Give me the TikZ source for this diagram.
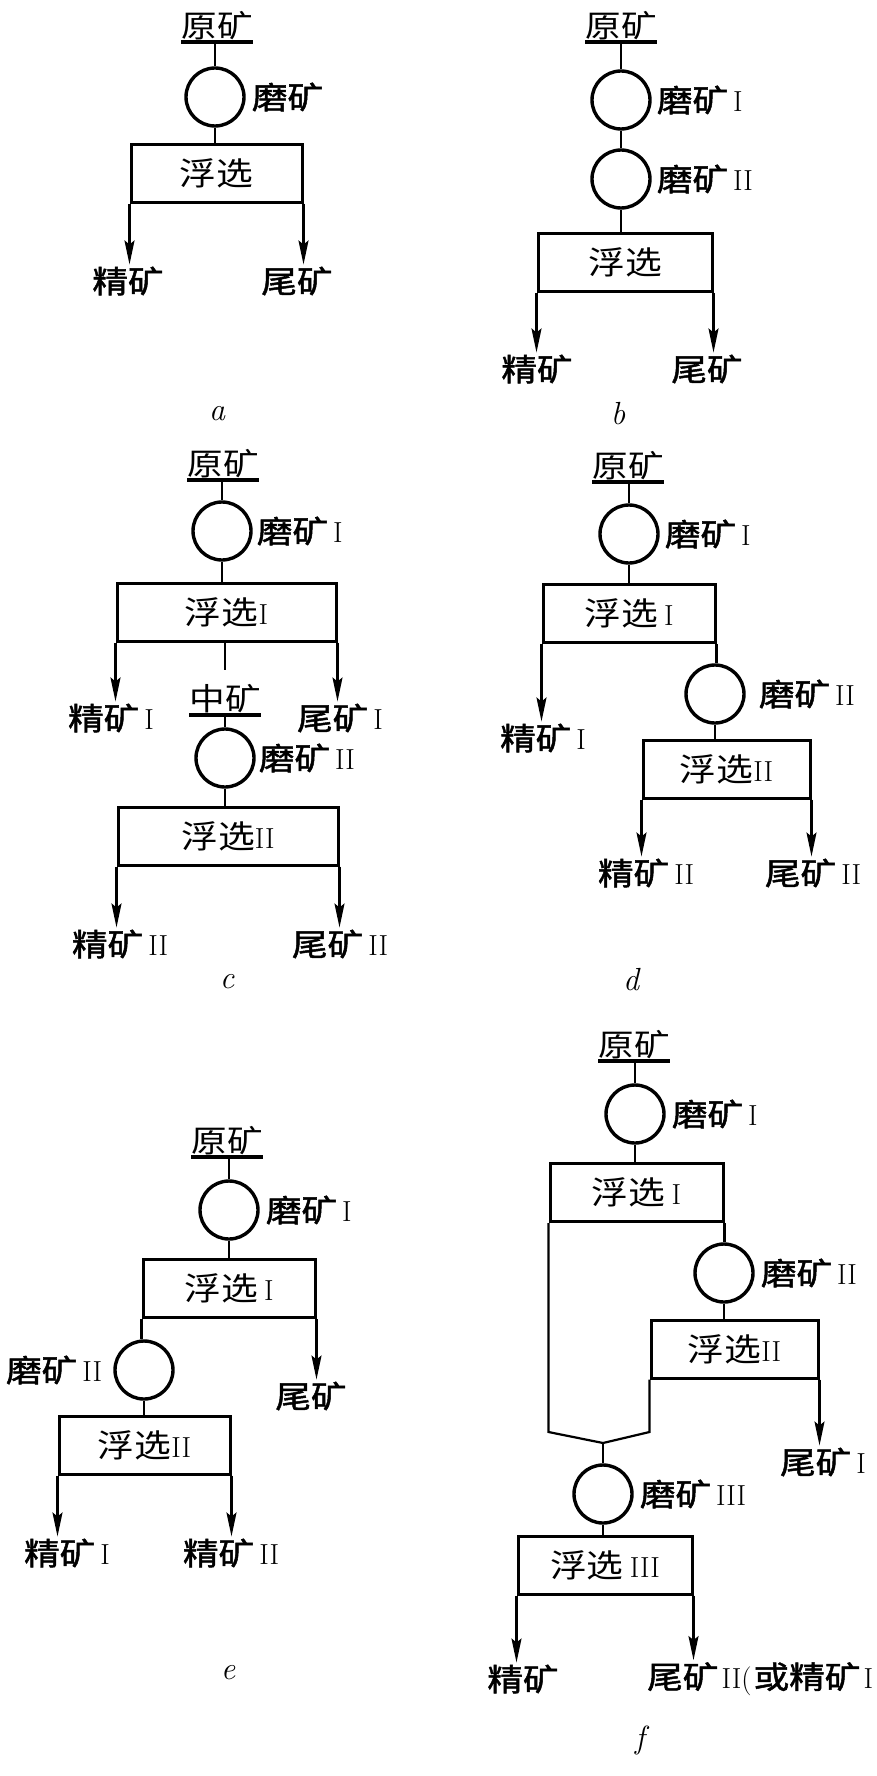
\documentclass[tikz,border=0pt]{standalone}
\usepackage{fontspec}
\usepackage{tikz}
\usetikzlibrary{arrows.meta, positioning}
\newfontfamily\cjk[FakeStretch=1.15]{Noto Sans CJK SC}
\newfontfamily\cjkhei[FakeStretch=1.15,FakeBold=1.6]{Noto Sans CJK SC}
\newcommand{\romnum}[1]{{\rmfamily\fontsize{29pt}{29pt}\selectfont #1}}

\begin{document}
\begin{tikzpicture}[x=1pt, y=1pt, >={Stealth[length=24pt,width=10pt,inset=4pt]},
  flow/.style={line width=2.2pt},
  bar/.style={line width=3.4pt},
  feed node/.style={font=\cjk\fontsize{31pt}{33pt}\selectfont, inner xsep=0pt, inner ysep=2pt, anchor=south},
  mill node/.style={circle, draw, line width=3.4pt, minimum size=58pt, inner sep=0pt},
  cell node/.style={draw, line width=3pt, minimum height=58pt, inner sep=0pt, font=\cjk\fontsize{32pt}{34pt}\selectfont},
  name node/.style={font=\cjkhei\fontsize{31pt}{33pt}\selectfont, inner sep=1pt},
  prod node/.style={font=\cjkhei\fontsize{31pt}{33pt}\selectfont, inner sep=2pt},
  tag node/.style={font=\rmfamily\itshape\fontsize{32pt}{32pt}\selectfont}]

\useasboundingbox (0,0) rectangle (876,-1776);

% a
\node[feed node] (fa) at (217,-42) {原矿};
\node[mill node] (ma) at (215,-97) {};
\node[name node, right=5pt of ma] (nma) {磨矿};
\node[cell node, minimum width=171pt] (ba) at (216.5,-173.5) {浮选};
\node[prod node] (ca) at (128,-281) {精矿};
\node[prod node] (ta) at (297,-281) {尾矿};
\node[tag node] (la) at (217,-414) {a};
\draw[bar] (fa.south west) -- (fa.south east);
\draw[flow] (ma.north |- fa.south) -- (ma.north);
\draw[flow] (ma.south) -- (ma.south |- ba.north);
\draw[flow,->] (ba.south west) -- (ba.south west |- ca.north);
\draw[flow,->] (ba.south east) -- (ba.south east |- ta.north);

% b
\node[feed node] (fb) at (621,-42) {原矿};
\node[mill node] (mb1) at (621,-100) {};
\node[name node, right=4pt of mb1] (nmb1) {磨矿\hspace{5pt}\romnum{I}};
\node[mill node] (mb2) at (621,-179) {};
\node[name node, right=4pt of mb2] (nmb2) {磨矿\hspace{5pt}\romnum{II}};
\node[cell node, minimum width=174pt] (bb) at (625,-262.5) {浮选};
\node[prod node] (cb) at (537,-369) {精矿};
\node[prod node] (tb) at (707,-369) {尾矿};
\node[tag node] (lb) at (618,-414) {b};
\draw[bar] (fb.south west) -- (fb.south east);
\draw[flow] (mb1.north |- fb.south) -- (mb1.north);
\draw[flow] (mb1) -- (mb2);
\draw[flow] (mb2.south) -- (mb2.south |- bb.north);
\draw[flow,->] (bb.south west) -- (bb.south west |- cb.north);
\draw[flow,->] (bb.south east) -- (bb.south east |- tb.north);

% c
\node[feed node] (fc) at (223,-480) {原矿};
\node[mill node] (mc1) at (222,-531) {};
\node[name node, right=3pt of mc1] (nmc1) {磨矿\hspace{5pt}\romnum{I}};
\node[cell node, minimum width=219pt] (bc1) at (226.5,-612) {浮选\romnum{I}};
\node[prod node] (cc1) at (111,-718) {精矿\hspace{5pt}\romnum{I}};
\node[prod node] (tc1) at (340,-718) {尾矿\hspace{5pt}\romnum{I}};
\node[feed node] (fc2) at (225,-715) {中矿};
\node[mill node] (mc2) at (225,-758) {};
\node[name node, right=2pt of mc2] (nmc2) {磨矿\hspace{5pt}\romnum{II}};
\node[cell node, minimum width=220pt] (bc2) at (228,-836) {浮选\romnum{II}};
\node[prod node] (cc2) at (120,-944) {精矿\hspace{5pt}\romnum{II}};
\node[prod node] (tc2) at (340,-944) {尾矿\hspace{5pt}\romnum{II}};
\node[tag node] (lc) at (227,-982) {c};
\draw[bar] (fc.south west) -- (fc.south east);
\draw[flow] (mc1.north |- fc.south) -- (mc1.north);
\draw[flow] (mc1.south) -- (mc1.south |- bc1.north);
\draw[flow,->] (bc1.south west) -- (bc1.south west |- cc1.north);
\draw[flow,->] (bc1.south east) -- (bc1.south east |- tc1.north);
\draw[flow, shorten >=12pt] (fc2.north |- bc1.south) -- (fc2.north);
\draw[bar] (fc2.south west) -- (fc2.south east);
\draw[flow] (mc2.north |- fc2.south) -- (mc2.north);
\draw[flow] (mc2.south) -- (mc2.south |- bc2.north);
\draw[flow,->] (bc2.south west) -- (bc2.south west |- cc2.north);
\draw[flow,->] (bc2.south east) -- (bc2.south east |- tc2.north);

% d
\node[feed node] (fd) at (628,-482) {原矿};
\node[mill node] (md1) at (629,-534) {};
\node[name node, right=4pt of md1] (nmd1) {磨矿\hspace{5pt}\romnum{I}};
\node[cell node, minimum width=172pt] (bd1) at (629,-613.5) {浮选\hspace{6pt}\romnum{I}};
\node[prod node] (cd1) at (543,-738) {精矿\hspace{5pt}\romnum{I}};
\node[mill node] (md2) at (715,-694) {};
\node[name node, right=12pt of md2] (nmd2) {磨矿\hspace{5pt}\romnum{II}};
\node[cell node, minimum width=167pt] (bd2) at (726.5,-769) {浮选\romnum{II}};
\node[prod node] (cd2) at (646,-873) {精矿\hspace{5pt}\romnum{II}};
\node[prod node] (td2) at (813,-873) {尾矿\hspace{5pt}\romnum{II}};
\node[tag node] (ld) at (631,-980) {d};
\draw[bar] (fd.south west) -- (fd.south east);
\draw[flow] (md1.north |- fd.south) -- (md1.north);
\draw[flow] (md1.south) -- (md1.south |- bd1.north);
\draw[flow,->] (bd1.south west) -- (bd1.south west |- cd1.north);
\draw[flow] (bd1.south east) -- (bd1.south east |- md2.north);
\draw[flow] (md2.south) -- (md2.south |- bd2.north);
\draw[flow,->] (bd2.south west) -- (bd2.south west |- cd2.north);
\draw[flow,->] (bd2.south east) -- (bd2.south east |- td2.north);

% e
\node[feed node] (fe) at (227,-1157) {原矿};
\node[mill node] (me1) at (229,-1210) {};
\node[name node, right=5pt of me1] (nme1) {磨矿\hspace{5pt}\romnum{I}};
\node[cell node, minimum width=172pt] (be1) at (229,-1288.5) {浮选\hspace{6pt}\romnum{I}};
\node[prod node] (te1) at (311,-1396) {尾矿};
\node[mill node] (me2) at (144,-1370) {};
\node[name node, left=10pt of me2] (nme2) {磨矿\hspace{5pt}\romnum{II}};
\node[cell node, minimum width=171pt] (be2) at (144.5,-1445) {浮选\romnum{II}};
\node[prod node] (ce1) at (67,-1553) {精矿\hspace{5pt}\romnum{I}};
\node[prod node] (ce2) at (231,-1553) {精矿\hspace{5pt}\romnum{II}};
\node[tag node] (le) at (228,-1673) {e};
\draw[bar] (fe.south west) -- (fe.south east);
\draw[flow] (me1.north |- fe.south) -- (me1.north);
\draw[flow] (me1.south) -- (me1.south |- be1.north);
\draw[flow,->] (be1.south east) -- (be1.south east |- te1.north);
\draw[flow] (be1.south west) -- (be1.south west |- me2.north);
\draw[flow] (me2.south) -- (me2.south |- be2.north);
\draw[flow,->] (be2.south west) -- (be2.south west |- ce1.north);
\draw[flow,->] (be2.south east) -- (be2.south east |- ce2.north);

% f
\node[feed node] (ff) at (634,-1061) {原矿};
\node[mill node] (mf1) at (635,-1114) {};
\node[name node, right=5pt of mf1] (nmf1) {磨矿\hspace{5pt}\romnum{I}};
\node[cell node, minimum width=173pt] (bf1) at (636.5,-1192.5) {浮选\hspace{6pt}\romnum{I}};
\node[mill node] (mf2) at (724,-1273) {};
\node[name node, right=5pt of mf2] (nmf2) {磨矿\hspace{5pt}\romnum{II}};
\node[cell node, minimum width=167pt] (bf2) at (734.5,-1349) {浮选\romnum{II}};
\node[prod node] (tf1) at (823,-1462) {尾矿\hspace{5pt}\romnum{I}};
\coordinate (kf) at (603,-1432);
\coordinate (jf) at (603,-1443);
\node[mill node] (mf3) at (603,-1494) {};
\node[name node, right=5pt of mf3] (nmf3) {磨矿\hspace{5pt}\romnum{III}};
\node[cell node, minimum width=174pt] (bf3) at (605,-1565) {浮选\hspace{6pt}\romnum{III}};
\node[prod node] (cf) at (523,-1679) {精矿};
\node[prod node, anchor=west, inner xsep=0pt] (tf2) at (647,-1679) {尾矿\hspace{3pt}\romnum{II(}\hspace{2pt}或精矿\hspace{3pt}\romnum{I}};
\node[tag node] (lf) at (640,-1740) {f};
\draw[bar] (ff.south west) -- (ff.south east);
\draw[flow] (mf1.north |- ff.south) -- (mf1.north);
\draw[flow] (mf1.south) -- (mf1.south |- bf1.north);
\draw[flow] (bf1.south east) -- (bf1.south east |- mf2.north);
\draw[flow] (mf2.south) -- (mf2.south |- bf2.north);
\draw[flow,->] (bf2.south east) -- (bf2.south east |- tf1.north);
\draw[flow] (bf1.south west) -- (bf1.south west |- kf) -- (jf) -- (bf2.south west |- kf) -- (bf2.south west);
\draw[flow] (jf) -- (mf3.north);
\draw[flow] (mf3.south) -- (mf3.south |- bf3.north);
\draw[flow,->] (bf3.south west) -- (bf3.south west |- cf.north);
\draw[flow,->] (bf3.south east) -- (bf3.south east |- tf2.north);
\end{tikzpicture}
\end{document}
